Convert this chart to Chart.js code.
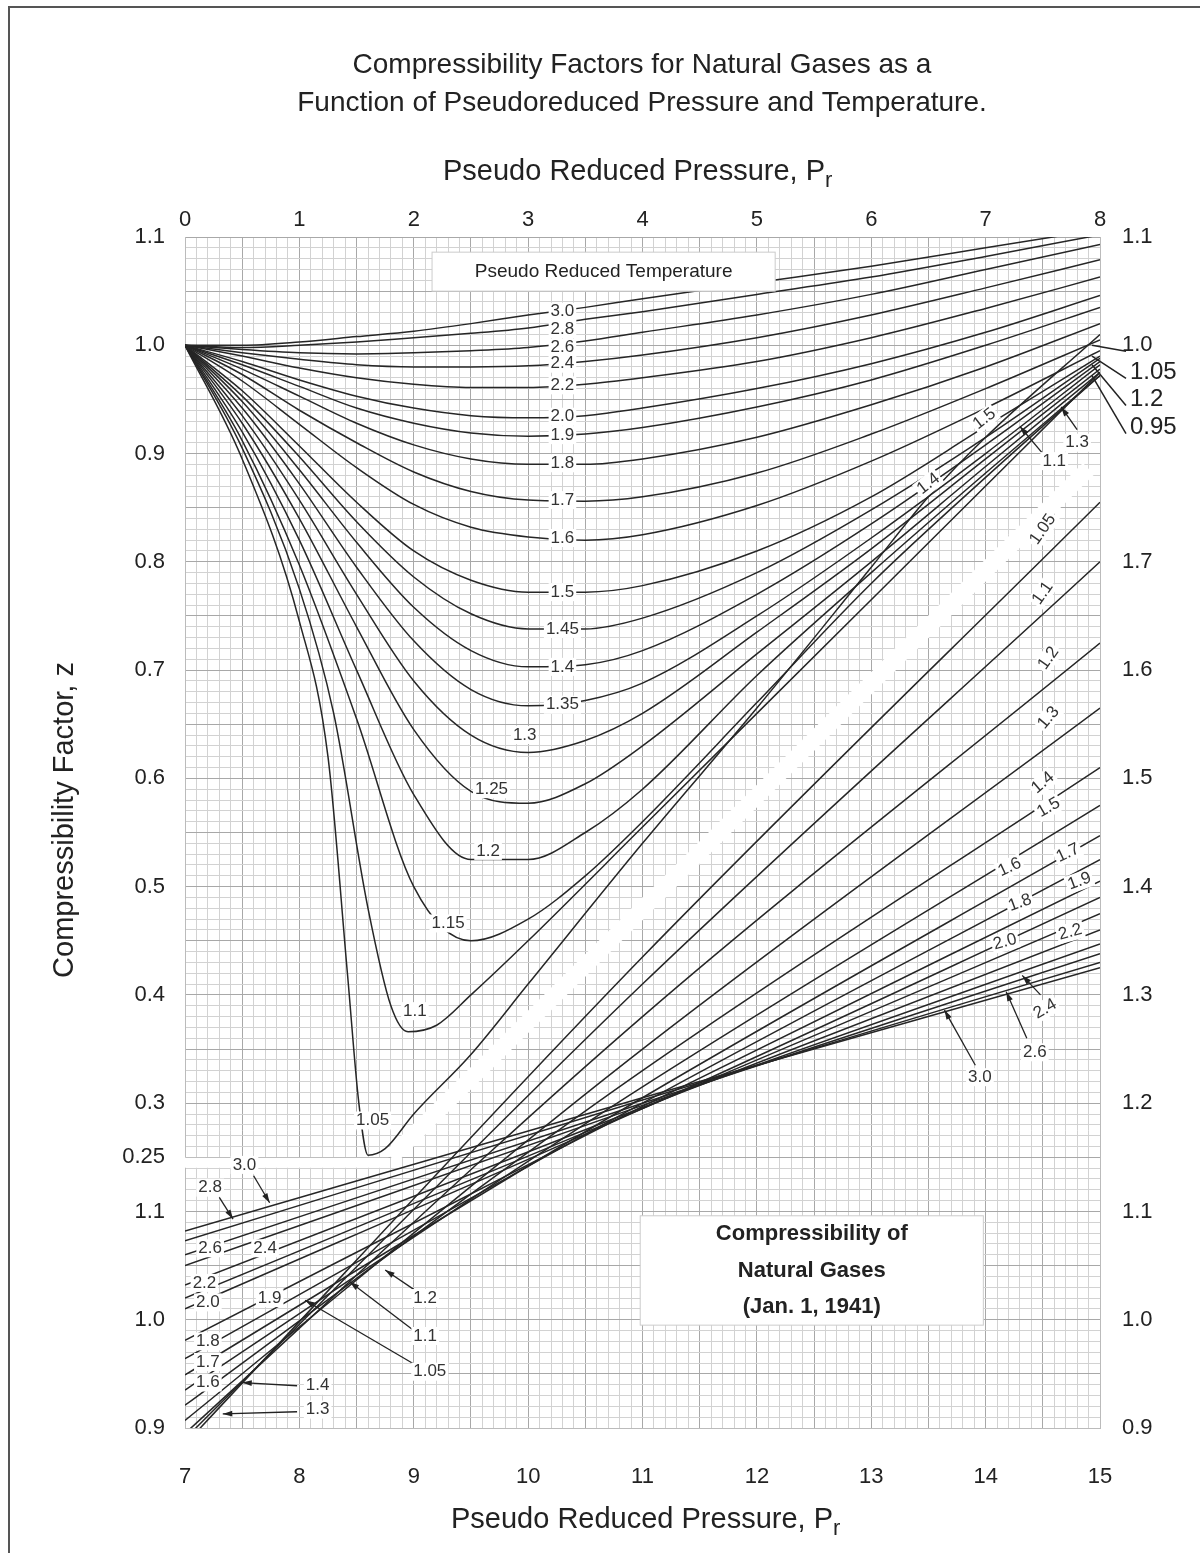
<!DOCTYPE html>
<html>
<head>
<meta charset="utf-8">
<script src="https://cdn.jsdelivr.net/npm/chart.js@4.4.1/dist/chart.umd.min.js"></script>
<style>
  html, body { margin: 0; padding: 0; background: #fff; }
  #wrap { position: relative; width: 1200px; height: 1553px; }
  #frame { position: absolute; left: 8px; top: 6px; width: 1200px; height: 1560px; border-left: 2px solid #555; border-top: 2px solid #555; }
  canvas { position: absolute; left: 0; top: 0; }
</style>
</head>
<body>
<div id="wrap">
  <div id="frame"></div>
  <canvas id="chart" width="1200" height="1553"></canvas>
</div>
<script>
// Low pressure chart: Pr 0..8, z plotted directly (0.25 .. 1.1)
const lowPr = [0, 0.5, 1, 1.5, 2, 2.5, 3, 3.5, 4, 5, 6, 7, 8];
const lowTr = ['3.0', '2.8', '2.6', '2.4', '2.2', '2.0', '1.9', '1.8', '1.7', '1.6', '1.5', '1.45', '1.4', '1.35', '1.3', '1.25', '1.2', '1.15'];
const lowZ = [
  [1.0, 1.0, 1.003, 1.008, 1.013, 1.02, 1.028, 1.035, 1.043, 1.058, 1.073, 1.09, 1.107],
  [1.0, 0.998, 1.0, 1.003, 1.007, 1.011, 1.016, 1.024, 1.031, 1.047, 1.063, 1.082, 1.102],
  [1.0, 0.996, 0.993, 0.992, 0.993, 0.995, 0.998, 1.004, 1.012, 1.028, 1.047, 1.07, 1.093],
  [1.0, 0.993, 0.987, 0.982, 0.98, 0.98, 0.981, 0.985, 0.991, 1.007, 1.028, 1.053, 1.079],
  [1.0, 0.99, 0.979, 0.97, 0.964, 0.961, 0.961, 0.964, 0.97, 0.985, 1.007, 1.034, 1.063],
  [1.0, 0.985, 0.968, 0.953, 0.942, 0.935, 0.933, 0.935, 0.942, 0.96, 0.983, 1.012, 1.046],
  [1.0, 0.982, 0.962, 0.942, 0.928, 0.919, 0.916, 0.918, 0.924, 0.943, 0.968, 1.0, 1.035],
  [1.0, 0.978, 0.953, 0.928, 0.908, 0.895, 0.89, 0.89, 0.895, 0.915, 0.945, 0.98, 1.02],
  [1.0, 0.973, 0.94, 0.91, 0.883, 0.865, 0.857, 0.856, 0.86, 0.882, 0.918, 0.96, 1.005],
  [1.0, 0.967, 0.927, 0.887, 0.853, 0.832, 0.823, 0.82, 0.825, 0.852, 0.893, 0.942, 0.995],
  [1.0, 0.958, 0.907, 0.855, 0.81, 0.783, 0.772, 0.772, 0.778, 0.81, 0.86, 0.925, 0.99],
  [1.0, 0.953, 0.897, 0.837, 0.786, 0.752, 0.738, 0.738, 0.748, 0.79, 0.848, 0.915, 0.988],
  [1.0, 0.948, 0.885, 0.818, 0.758, 0.718, 0.703, 0.705, 0.718, 0.77, 0.835, 0.908, 0.985],
  [1.0, 0.942, 0.872, 0.795, 0.727, 0.682, 0.667, 0.672, 0.688, 0.75, 0.822, 0.9, 0.982],
  [1.0, 0.935, 0.857, 0.77, 0.69, 0.64, 0.624, 0.635, 0.66, 0.735, 0.812, 0.895, 0.978],
  [1.0, 0.928, 0.84, 0.74, 0.645, 0.588, 0.577, 0.595, 0.63, 0.715, 0.8, 0.888, 0.975],
  [1.0, 0.92, 0.82, 0.7, 0.585, 0.525, 0.525, 0.55, 0.59, 0.695, 0.79, 0.882, 0.972],
  [1.0, 0.912, 0.797, 0.655, 0.5, 0.45, 0.47, 0.51, 0.56, 0.67, 0.78, 0.878, 0.972]
];
// the two lowest temperatures have their own sample points (steep drop)
const pr110 = [0, 0.5, 1, 1.3, 1.6, 1.8, 1.95, 2.2, 2.5, 3, 4, 5, 6, 7, 8];
const z110 = [1.0, 0.905, 0.775, 0.66, 0.48, 0.39, 0.366, 0.372, 0.4, 0.45, 0.555, 0.66, 0.765, 0.87, 0.975];
const pr105 = [0, 0.5, 1, 1.25, 1.42, 1.52, 1.6, 1.75, 2, 2.5, 3, 4, 5, 6, 6.5, 7, 8];
const z105 = [1.0, 0.895, 0.745, 0.62, 0.42, 0.3, 0.252, 0.258, 0.29, 0.345, 0.41, 0.54, 0.665, 0.795, 0.86, 0.915, 1.01];

// High pressure chart: Pr 7..15, z 0.9 .. 2.0 (drawn shifted by -7 and -0.9)
const highPr = [7, 11, 15];
const highTr = ['3.0', '2.8', '2.6', '2.4', '2.2', '2.0', '1.9', '1.8', '1.7', '1.6', '1.5', '1.4', '1.3', '1.2', '1.1', '1.05'];
const highZ = [
  [1.082, 1.205, 1.325],
  [1.073, 1.203, 1.33],
  [1.06, 1.2, 1.338],
  [1.05, 1.198, 1.347],
  [1.032, 1.196, 1.36],
  [1.02, 1.195, 1.375],
  [1.01, 1.195, 1.39],
  [0.981, 1.197, 1.405],
  [0.964, 1.2, 1.425],
  [0.949, 1.205, 1.447],
  [0.935, 1.215, 1.475],
  [0.921, 1.23, 1.51],
  [0.907, 1.25, 1.565],
  [0.895, 1.28, 1.625],
  [0.89, 1.31, 1.70],
  [0.885, 1.335, 1.755]
];

// white gap separating the two charts
const gapX = [1.8, 7.9];
const gapY = [0.25, 0.886];
const stripX = [0, 1.78];
const stripY = [0.245, 0.245];

// tick labels
const topTicks = [0, 1, 2, 3, 4, 5, 6, 7, 8];
const bottomTicks = [7, 8, 9, 10, 11, 12, 13, 14, 15];
const leftTicks = { 110: '1.1', 100: '1.0', 90: '0.9', 80: '0.8', 70: '0.7', 60: '0.6', 50: '0.5', 40: '0.4', 30: '0.3', 25: '0.25', 20: '1.1', 10: '1.0', 0: '0.9' };
const rightTicks = { 110: '1.1', 100: '1.0', 80: '1.7', 70: '1.6', 60: '1.5', 50: '1.4', 40: '1.3', 30: '1.2', 20: '1.1', 10: '1.0', 0: '0.9' };

// curve labels [text, x, y, angle]
const lowLabels = [
  ['3.0', 3.3, 1.031, 0], ['2.8', 3.3, 1.015, 0], ['2.6', 3.3, 0.998, 0], ['2.4', 3.3, 0.983, 0],
  ['2.2', 3.3, 0.963, 0], ['2.0', 3.3, 0.934, 0], ['1.9', 3.3, 0.917, 0], ['1.8', 3.3, 0.891, 0],
  ['1.7', 3.3, 0.857, 0], ['1.6', 3.3, 0.822, 0], ['1.5', 3.3, 0.772, 0], ['1.45', 3.3, 0.738, 0],
  ['1.4', 3.3, 0.703, 0], ['1.35', 3.3, 0.668, 0], ['1.3', 2.97, 0.64, 0], ['1.25', 2.68, 0.59, 0],
  ['1.2', 2.65, 0.533, 0], ['1.15', 2.3, 0.466, 0], ['1.1', 2.01, 0.385, 0], ['1.05', 1.64, 0.284, 0],
  ['1.5', 6.99, 0.932, -38], ['1.4', 6.5, 0.872, -38], ['1.3', 7.8, 0.91, 0], ['1.1', 7.6, 0.893, 0]
];
const highLabels = [
  ['1.05', 7.5, 0.83, -55], ['1.1', 7.5, 0.771, -55], ['1.2', 7.55, 0.711, -55], ['1.3', 7.55, 0.656, -50],
  ['1.4', 7.5, 0.596, -40], ['1.5', 7.55, 0.573, -30], ['1.6', 7.21, 0.518, -25], ['1.7', 7.72, 0.531, -25],
  ['1.8', 7.3, 0.485, -20], ['1.9', 7.82, 0.505, -20], ['2.0', 7.17, 0.449, -15], ['2.2', 7.74, 0.458, -15],
  ['2.4', 7.52, 0.387, -30], ['2.6', 7.43, 0.347, 0], ['3.0', 6.95, 0.324, 0],
  ['3.0', 0.52, 0.243, 0], ['2.8', 0.22, 0.222, 0], ['2.6', 0.22, 0.166, 0], ['2.4', 0.7, 0.166, 0],
  ['2.2', 0.17, 0.134, 0], ['2.0', 0.2, 0.116, 0], ['1.9', 0.74, 0.12, 0], ['1.8', 0.2, 0.08, 0],
  ['1.7', 0.2, 0.061, 0], ['1.6', 0.2, 0.042, 0], ['1.4', 1.16, 0.039, 0], ['1.3', 1.16, 0.017, 0],
  ['1.2', 2.1, 0.12, 0], ['1.1', 2.1, 0.085, 0], ['1.05', 2.14, 0.052, 0]
];
// leader arrows [x1, y1, x2, y2] (from label to curve)
const arrows = [
  [0.6, 0.233, 0.74, 0.208], [0.3, 0.213, 0.42, 0.193],
  [2.0, 0.128, 1.75, 0.146], [2.0, 0.09, 1.44, 0.135], [2.02, 0.058, 1.05, 0.118],
  [0.98, 0.039, 0.5, 0.042], [0.98, 0.015, 0.33, 0.013],
  [6.91, 0.335, 6.64, 0.386], [7.36, 0.36, 7.18, 0.403], [7.48, 0.4, 7.32, 0.418],
  [7.8, 0.922, 7.66, 0.943], [7.5, 0.9, 7.3, 0.925]
];
const rightEdgeLabels = [['1.05', 0.975], ['1.2', 0.95], ['0.95', 0.924]];
const rightEdgeTargets = [1.0, 0.99, 0.982, 0.972];

const lineColor = '#262626';
const datasets = [];

datasets.push({ data: gapX.map((x, i) => ({ x: x, y: gapY[i] })), borderColor: '#fff', borderWidth: 16, order: -10, pointRadius: 0 });
datasets.push({ data: stripX.map((x, i) => ({ x: x, y: stripY[i] })), borderColor: '#fff', borderWidth: 10, order: -10, pointRadius: 0 });

lowTr.forEach((tr, i) => {
  datasets.push({ label: 'Tr ' + tr, data: lowPr.map((p, j) => ({ x: p, y: lowZ[i][j] })), borderColor: lineColor, borderWidth: 1.5, pointRadius: 0, cubicInterpolationMode: 'monotone' });
});
datasets.push({ label: 'Tr 1.1', data: pr110.map((p, j) => ({ x: p, y: z110[j] })), borderColor: lineColor, borderWidth: 1.5, pointRadius: 0, cubicInterpolationMode: 'monotone' });
datasets.push({ label: 'Tr 1.05', data: pr105.map((p, j) => ({ x: p, y: z105[j] })), borderColor: lineColor, borderWidth: 1.5, pointRadius: 0, cubicInterpolationMode: 'monotone' });
highTr.forEach((tr, i) => {
  datasets.push({ label: 'Tr ' + tr + ' high', data: highPr.map((p, j) => ({ x: p - 7, y: highZ[i][j] - 0.9 })), borderColor: lineColor, borderWidth: 1.5, pointRadius: 0, cubicInterpolationMode: 'monotone' });
});

function gridColor(ctx, every) {
  const v = Math.round(ctx.tick.value * 100);
  return v % every === 0 ? '#a8a8a8' : '#d2d2d2';
}

const overlay = {
  id: 'overlay',
  afterDatasetsDraw(chart) {
    const c = chart.ctx;
    const xs = chart.scales.x, ys = chart.scales.y, a = chart.chartArea;
    c.save();
    // boxes
    function box(x1, y1, x2, y2, lines, font) {
      const px1 = xs.getPixelForValue(x1), py1 = ys.getPixelForValue(y1);
      const px2 = xs.getPixelForValue(x2), py2 = ys.getPixelForValue(y2);
      c.fillStyle = '#fff';
      c.fillRect(px1, py1, px2 - px1, py2 - py1);
      c.strokeStyle = '#ccc';
      c.lineWidth = 1;
      c.strokeRect(px1, py1, px2 - px1, py2 - py1);
      c.fillStyle = '#222';
      c.font = font;
      c.textAlign = 'center';
      c.textBaseline = 'middle';
      const h = (py2 - py1) / lines.length;
      lines.forEach((t, i) => c.fillText(t, (px1 + px2) / 2, py1 + h * (i + 0.5)));
    }
    box(2.16, 1.086, 5.16, 1.05, ['Pseudo Reduced Temperature'], '19px "Liberation Sans", Arial');
    box(3.98, 0.196, 6.98, 0.095, ['Compressibility of', 'Natural Gases', '(Jan. 1, 1941)'], 'bold 22px "Liberation Sans", Arial');

    // leader arrows
    c.strokeStyle = '#222';
    c.fillStyle = '#222';
    c.lineWidth = 1.3;
    arrows.forEach(r => {
      const x1 = xs.getPixelForValue(r[0]), y1 = ys.getPixelForValue(r[1]);
      const x2 = xs.getPixelForValue(r[2]), y2 = ys.getPixelForValue(r[3]);
      c.beginPath(); c.moveTo(x1, y1); c.lineTo(x2, y2); c.stroke();
      const ang = Math.atan2(y2 - y1, x2 - x1);
      c.beginPath();
      c.moveTo(x2, y2);
      c.lineTo(x2 - 10 * Math.cos(ang - 0.3), y2 - 10 * Math.sin(ang - 0.3));
      c.lineTo(x2 - 10 * Math.cos(ang + 0.3), y2 - 10 * Math.sin(ang + 0.3));
      c.closePath(); c.fill();
    });

    // curve labels
    c.font = '17px "Liberation Sans", Arial';
    c.textAlign = 'center';
    c.textBaseline = 'middle';
    lowLabels.concat(highLabels).forEach(l => {
      const px = xs.getPixelForValue(l[1]), py = ys.getPixelForValue(l[2]);
      c.save();
      c.translate(px, py);
      c.rotate(l[3] * Math.PI / 180);
      const w = c.measureText(l[0]).width + 4;
      c.fillStyle = '#fff';
      c.fillRect(-w / 2, -9, w, 18);
      c.fillStyle = '#333';
      c.fillText(l[0], 0, 0);
      c.restore();
    });

    // labels beyond the right edge
    c.font = '24px "Liberation Sans", Arial';
    c.textAlign = 'left';
    c.fillStyle = '#222';
    rightEdgeLabels.forEach(l => c.fillText(l[0], a.right + 30, ys.getPixelForValue(l[1])));
    c.strokeStyle = '#222';
    c.lineWidth = 1.5;
    [1.0].concat(rightEdgeLabels.map(l => l[1])).forEach((v, i) => {
      c.beginPath();
      c.moveTo(a.right + 26, ys.getPixelForValue(v) + 6);
      c.lineTo(a.right - 8, ys.getPixelForValue(rightEdgeTargets[i]));
      c.stroke();
    });

    // titles
    c.textAlign = 'center';
    c.font = '28px "Liberation Sans", Arial';
    c.fillText('Compressibility Factors for Natural Gases as a', 642, 65);
    c.fillText('Function of Pseudoreduced Pressure and Temperature.', 642, 103);
    function prTitle(cx, cy) {
      c.font = '29px "Liberation Sans", Arial';
      const t = 'Pseudo Reduced Pressure, P';
      const w = c.measureText(t).width;
      c.textAlign = 'left';
      c.fillText(t, cx - w / 2 - 8, cy);
      c.font = '22px "Liberation Sans", Arial';
      c.fillText('r', cx + w / 2 - 8, cy + 9);
      c.textAlign = 'center';
    }
    prTitle(642, 172);
    prTitle(650, 1520);
    c.save();
    c.translate(65, 820);
    c.rotate(-Math.PI / 2);
    c.font = '29px "Liberation Sans", Arial';
    c.fillText('Compressibility Factor, z', 0, 0);
    c.restore();
    c.restore();
  }
};

const tickFont = { family: '"Liberation Sans", Arial', size: 22 };

new Chart(document.getElementById('chart').getContext('2d'), {
  type: 'line',
  data: { datasets: datasets },
  options: {
    responsive: false,
    animation: false,
    events: [],
    layout: { padding: 0 },
    plugins: { legend: { display: false }, tooltip: { enabled: false }, title: { display: false } },
    scales: {
      x: {
        type: 'linear', position: 'bottom', min: 0, max: 8,
        afterFit: s => { s.height = 125; },
        ticks: {
          stepSize: 0.1, autoSkip: false, maxRotation: 0, color: '#222', font: tickFont, padding: 36,
          callback: v => { const n = Math.round(v * 10); return n % 10 === 0 && bottomTicks.includes(n / 10 + 7) ? String(n / 10 + 7) : ''; }
        },
        grid: { color: ctx => gridColor(ctx, 50), drawTicks: false },
        border: { color: '#bbb' }
      },
      x2: {
        type: 'linear', position: 'top', min: 0, max: 8,
        afterFit: s => { s.height = 237; },
        ticks: {
          stepSize: 1, autoSkip: false, maxRotation: 0, color: '#222', font: tickFont, padding: 4,
          callback: v => topTicks.includes(v) ? String(v) : ''
        },
        grid: { display: false, drawTicks: false },
        border: { display: false }
      },
      y: {
        type: 'linear', position: 'left', min: 0, max: 1.1,
        afterFit: s => { s.width = 185; },
        ticks: {
          stepSize: 0.01, autoSkip: false, color: '#222', font: tickFont, padding: 20,
          callback: v => leftTicks[Math.round(v * 100)] || ''
        },
        grid: { color: ctx => gridColor(ctx, 5), drawTicks: false },
        border: { color: '#bbb' }
      },
      y2: {
        type: 'linear', position: 'right', min: 0, max: 1.1,
        afterFit: s => { s.width = 100; },
        ticks: {
          stepSize: 0.01, autoSkip: false, color: '#222', font: tickFont, padding: 22,
          callback: v => rightTicks[Math.round(v * 100)] || ''
        },
        grid: { display: false, drawTicks: false },
        border: { color: '#bbb' }
      }
    }
  },
  plugins: [overlay]
});
</script>
</body>
</html>
